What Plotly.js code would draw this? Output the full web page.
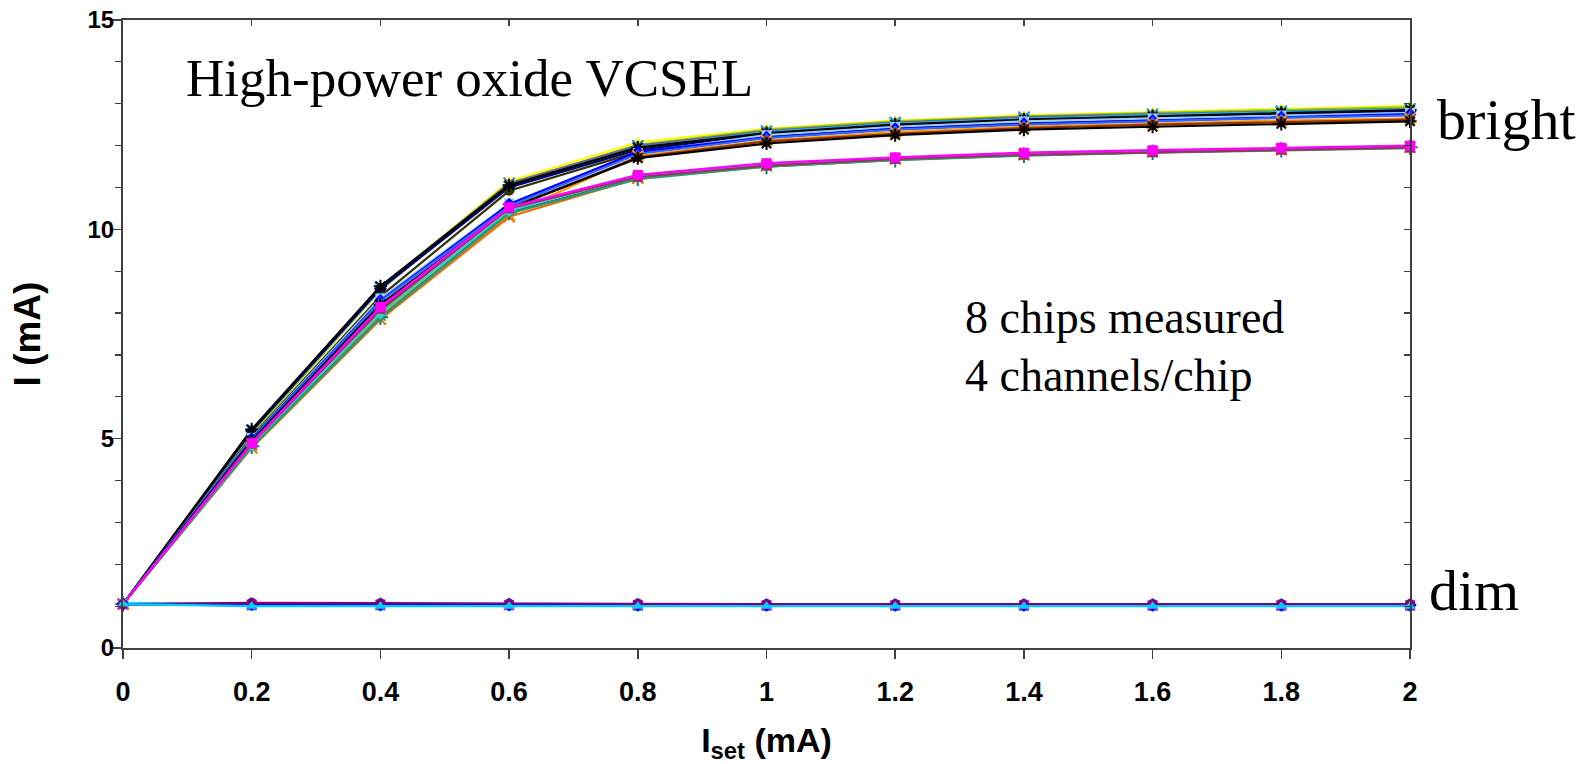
<!DOCTYPE html>
<html>
<head>
<meta charset="utf-8">
<script src="https://cdn.plot.ly/plotly-3.0.1.min.js"></script>
<style>html,body{margin:0;padding:0;background:#fff;}#chart{width:1585px;height:764px;}</style>
</head>
<body>
<div id="chart"></div>
<script>
// Set current (mA)
const iset = [0, 0.2, 0.4, 0.6, 0.8, 1.0, 1.2, 1.4, 1.6, 1.8, 2.0];
const xTickVals = [0, 0.2, 0.4, 0.6, 0.8, 1, 1.2, 1.4, 1.6, 1.8, 2];
const xTickText = ["0", "0.2", "0.4", "0.6", "0.8", "1", "1.2", "1.4", "1.6", "1.8", "2"];
const yTickVals = [0, 5, 10, 15];
const yTickText = ["0", "5", "10", "15"];

// Bright channels — upper group
const brightA1 = [1.05, 5.15, 8.60, 11.15, 12.08, 12.40, 12.60, 12.72, 12.80, 12.88, 12.95];
const brightA2 = [1.05, 5.12, 8.55, 11.08, 12.02, 12.38, 12.58, 12.70, 12.78, 12.85, 12.92];
const brightA3 = [1.05, 5.20, 8.62, 11.10, 12.00, 12.35, 12.55, 12.68, 12.75, 12.82, 12.88];
const brightA4 = [1.05, 5.19, 8.60, 11.02, 11.95, 12.32, 12.52, 12.64, 12.72, 12.80, 12.86];
const brightA5 = [1.05, 5.18, 8.58, 11.00, 11.90, 12.28, 12.48, 12.60, 12.68, 12.76, 12.82];
const brightA6 = [1.05, 5.05, 8.40, 10.92, 11.85, 12.22, 12.42, 12.55, 12.62, 12.70, 12.76];
const brightA7 = [1.05, 5.22, 8.64, 11.05, 11.95, 12.30, 12.50, 12.62, 12.70, 12.78, 12.85];
// Bright channels — middle group
const brightB1 = [1.05, 5.02, 8.35, 10.62, 11.82, 12.25, 12.45, 12.58, 12.65, 12.72, 12.78];
const brightB2 = [1.05, 5.00, 8.30, 10.60, 11.85, 12.20, 12.40, 12.52, 12.60, 12.68, 12.75];
const brightB3 = [1.05, 4.98, 8.28, 10.55, 11.80, 12.18, 12.38, 12.50, 12.58, 12.66, 12.72];
const brightB4 = [1.05, 4.85, 7.95, 10.35, 11.75, 12.12, 12.32, 12.45, 12.52, 12.60, 12.65];
const brightB5 = [1.05, 4.90, 8.05, 10.50, 11.72, 12.10, 12.28, 12.42, 12.50, 12.56, 12.62];
const brightB6 = [1.05, 4.95, 8.20, 10.50, 11.70, 12.05, 12.25, 12.38, 12.45, 12.52, 12.58];
// Bright channels — lower group
const brightC1 = [1.05, 4.78, 7.85, 10.30, 11.22, 11.52, 11.68, 11.78, 11.85, 11.90, 11.96];
const brightC2 = [1.05, 4.82, 7.90, 10.40, 11.22, 11.50, 11.66, 11.77, 11.84, 11.90, 11.96];
const brightC3 = [1.05, 4.80, 7.88, 10.38, 11.20, 11.50, 11.65, 11.76, 11.83, 11.89, 11.94];
const brightC4 = [1.05, 4.86, 8.00, 10.45, 11.28, 11.56, 11.70, 11.80, 11.87, 11.93, 11.98];
const brightC5 = [1.05, 4.88, 8.10, 10.50, 11.25, 11.52, 11.68, 11.78, 11.84, 11.90, 11.95];
const brightC6 = [1.05, 4.90, 8.15, 10.53, 11.30, 11.58, 11.72, 11.83, 11.89, 11.95, 12.00];
// Dim channels
const dim1 = [1.07, 1.07, 1.06, 1.06, 1.05, 1.05, 1.05, 1.05, 1.05, 1.05, 1.05];
const dim2 = [1.05, 1.02, 1.02, 1.02, 1.01, 1.01, 1.01, 1.01, 1.01, 1.01, 1.01];
const dim3 = [1.05, 1.04, 1.04, 1.03, 1.03, 1.02, 1.02, 1.02, 1.02, 1.02, 1.02];
const dim4 = [1.05, 1.03, 1.02, 1.02, 1.02, 1.01, 1.01, 1.01, 1.01, 1.01, 1.01];
const dim5 = [1.08, 1.06, 1.06, 1.05, 1.05, 1.04, 1.04, 1.04, 1.04, 1.04, 1.04];
const dim6 = [1.05, 1.02, 1.01, 1.01, 1.01, 1.01, 1.01, 1.01, 1.01, 1.01, 1.01];
const dim7 = [1.05, 1.05, 1.04, 1.04, 1.03, 1.03, 1.03, 1.03, 1.03, 1.03, 1.03];
const dim8 = [1.05, 1.04, 1.03, 1.03, 1.02, 1.02, 1.02, 1.02, 1.02, 1.02, 1.02];
const dim9 = [1.05, 1.08, 1.07, 1.06, 1.06, 1.05, 1.05, 1.05, 1.05, 1.05, 1.05];
const dim10 = [1.05, 1.00, 1.00, 1.00, 1.00, 1.00, 1.00, 1.00, 1.00, 1.00, 1.00];

const openSyms = new Set(['x-thin-open', 'asterisk-open', 'cross-thin-open']);
function series(name, y, color, symbol) {
  const open = openSyms.has(symbol);
  return {
    type: 'scatter', mode: 'lines+markers', name: name, x: iset, y: y,
    line: {color: color, width: 2.2},
    marker: {symbol: symbol, size: open ? 11 : 10, color: color,
             line: {color: color, width: open ? 2 : 0}},
    showlegend: false, cliponaxis: false
  };
}

const traces = [
  series('A1', brightA1, '#FFFF00', 'triangle-up'),
  series('A2', brightA2, '#99CC00', 'triangle-up'),
  series('A3', brightA3, '#666699', 'x-thin-open'),
  series('A4', brightA4, '#00CCFF', 'x-thin-open'),
  series('A5', brightA5, '#000080', 'diamond'),
  series('A6', brightA6, '#333300', 'circle'),
  series('A7', brightA7, '#000000', 'asterisk-open'),
  series('B1', brightB1, '#99CCFF', 'square'),
  series('B2', brightB2, '#0000FF', 'diamond'),
  series('B3', brightB3, '#3366FF', 'triangle-up'),
  series('B4', brightB4, '#FF9900', 'x-thin-open'),
  series('B5', brightB5, '#993300', 'circle'),
  series('B6', brightB6, '#000000', 'asterisk-open'),
  series('C1', brightC1, '#FF6600', 'x-thin-open'),
  series('C2', brightC2, '#008080', 'cross-thin-open'),
  series('C3', brightC3, '#339966', 'triangle-up'),
  series('C4', brightC4, '#33CCCC', 'diamond'),
  series('C5', brightC5, '#993366', 'square'),
  series('C6', brightC6, '#FF00FF', 'square'),
  series('D1', dim1, '#99CCFF', 'diamond'),
  series('D2', dim2, '#008080', 'square'),
  series('D3', dim3, '#FF00FF', 'square'),
  series('D4', dim4, '#3366FF', 'triangle-up'),
  series('D5', dim5, '#00FFFF', 'diamond'),
  series('D6', dim6, '#FFFF00', 'triangle-up'),
  series('D7', dim7, '#000080', 'diamond'),
  series('D8', dim8, '#0000FF', 'diamond'),
  series('D9', dim9, '#800080', 'circle'),
  series('D10', dim10, '#00CCFF', 'triangle-up')
];
// Invisible traces that activate the mirrored tick axes
traces.push({type: 'scatter', x: [0], y: [0], xaxis: 'x2', yaxis: 'y', mode: 'markers', marker: {opacity: 0, size: 1}, showlegend: false, hoverinfo: 'skip'});
traces.push({type: 'scatter', x: [0], y: [0], xaxis: 'x', yaxis: 'y2', mode: 'markers', marker: {opacity: 0, size: 1}, showlegend: false, hoverinfo: 'skip'});

const axisColor = '#404040';
const sans = 'Liberation Sans, Arial, sans-serif';
const serif = 'Liberation Serif, Times New Roman, serif';
const bold = s => '<b>' + s + '</b>';

const layout = {
  width: 1585, height: 764,
  margin: {l: 123, r: 175, t: 20, b: 116, pad: 0},
  paper_bgcolor: '#ffffff', plot_bgcolor: '#ffffff',
  font: {family: sans, size: 26, color: '#000'},
  showlegend: false,
  xaxis: {
    range: [0, 2], tickmode: 'array', tickvals: xTickVals, ticktext: xTickText.map(bold),
    ticks: 'outside', ticklen: 9, tickwidth: 1.5, tickcolor: axisColor,
    showline: true, linecolor: axisColor, linewidth: 2, mirror: true,
    showgrid: false, zeroline: false, automargin: false, ticklabelstandoff: 10,
    tickfont: {family: sans, size: 27, color: '#000'},
    title: {text: '<b>I<sub>set</sub> (mA)</b>', font: {family: sans, size: 34, color: '#000'}, standoff: 30}
  },
  xaxis2: {
    range: [0, 2], overlaying: 'x', side: 'top', tickmode: 'array', tickvals: xTickVals,
    ticks: 'inside', ticklen: 6, tickwidth: 1.5, tickcolor: axisColor,
    showticklabels: false, showline: false, showgrid: false, zeroline: false
  },
  yaxis: {
    range: [0, 15], tickmode: 'array', tickvals: yTickVals, ticktext: yTickText.map(bold),
    ticks: 'outside', ticklen: 9, tickwidth: 1.5, tickcolor: axisColor,
    minor: {dtick: 1, ticks: 'outside', ticklen: 6, tickwidth: 1.2, tickcolor: axisColor, showgrid: false},
    showline: true, linecolor: axisColor, linewidth: 2, mirror: true,
    showgrid: false, zeroline: false, automargin: false, ticklabelstandoff: -7,
    tickfont: {family: sans, size: 24, color: '#000'},
    title: {text: '<b>I (mA)</b>', font: {family: sans, size: 37, color: '#000'}, standoff: 36}
  },
  yaxis2: {
    range: [0, 15], overlaying: 'y', side: 'right', dtick: 1, tick0: 0,
    ticks: 'inside', ticklen: 6, tickwidth: 1.2, tickcolor: axisColor,
    showticklabels: false, showline: false, showgrid: false, zeroline: false
  },
  annotations: [
    {text: 'High-power oxide VCSEL', xref: 'paper', yref: 'paper', x: 0.0474, y: 0.9076,
     xanchor: 'left', yanchor: 'middle', showarrow: false, font: {family: serif, size: 53, color: '#000'}},
    {text: '8 chips measured', xref: 'paper', yref: 'paper', x: 0.6527, y: 0.5263,
     xanchor: 'left', yanchor: 'middle', showarrow: false, font: {family: serif, size: 46, color: '#000'}},
    {text: '4 channels/chip', xref: 'paper', yref: 'paper', x: 0.6527, y: 0.4347,
     xanchor: 'left', yanchor: 'middle', showarrow: false, font: {family: serif, size: 46, color: '#000'}},
    {text: 'bright', xref: 'paper', yref: 'paper', x: 1.0194, y: 0.8412,
     xanchor: 'left', yanchor: 'middle', showarrow: false, font: {family: serif, size: 58, color: '#000'}},
    {text: 'dim', xref: 'paper', yref: 'paper', x: 1.0132, y: 0.0916,
     xanchor: 'left', yanchor: 'middle', showarrow: false, font: {family: serif, size: 58, color: '#000'}}
  ]
};

Plotly.newPlot('chart', traces, layout, {displayModeBar: false, staticPlot: true});
</script>
</body>
</html>
